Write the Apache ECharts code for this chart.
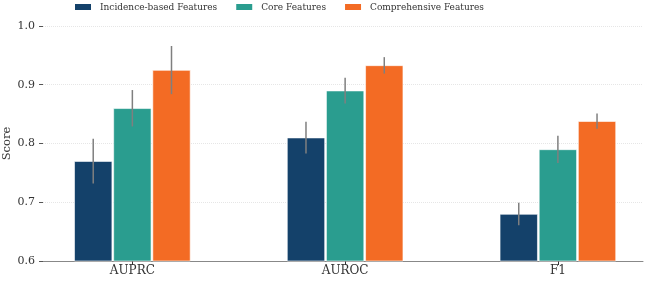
<!DOCTYPE html>
<html>
<head>
<meta charset="utf-8">
<script src="https://cdn.jsdelivr.net/npm/echarts@6/dist/echarts.min.js"></script>
<style>
  html, body { margin: 0; padding: 0; background: #fff; }
  #chart { width: 645px; height: 281px; }
</style>
</head>
<body>
<div id="chart"></div>
<script>
const categories = ['AUPRC', 'AUROC', 'F1'];
const seriesNames = ['Incidence-based Features', 'Core Features', 'Comprehensive Features'];
const incidence = [0.77, 0.81, 0.68];
const incidenceErr = [0.038, 0.027, 0.019];
const core = [0.86, 0.89, 0.79];
const coreErr = [0.031, 0.022, 0.023];
const comprehensive = [0.925, 0.933, 0.838];
const comprehensiveErr = [0.041, 0.014, 0.013];

const colors = ['#14416a', '#2a9d8f', '#f36b24'];
const barWidth = 38;
const barGap = 0.03;
const font = "'DejaVu Serif Condensed', 'DejaVu Serif', serif";
const fontWide = "'DejaVu Serif', serif";

const element = document.getElementById('chart');
const chart = echarts.init(element);

const means = [incidence, core, comprehensive];
const errs = [incidenceErr, coreErr, comprehensiveErr];

const barSeries = means.map((vals, k) => ({
  name: seriesNames[k],
  type: 'bar',
  barWidth,
  barGap: barGap * 100 + '%',
  itemStyle: { color: colors[k], borderColor: '#fff', borderWidth: 0.6 },
  data: vals.map((v, i) => [i, v]),
  z: 2,
}));

// error bars, no caps
const errSeries = means.map((vals, k) => ({
  name: seriesNames[k] + ' err',
  type: 'custom',
  z: 5,
  renderItem: (params, api) => {
    const x = api.value(0);
    const lo = api.coord([x, api.value(1) - api.value(2)]);
    const hi = api.coord([x, api.value(1) + api.value(2)]);
    const dx = (k - 1) * barWidth * (1 + barGap);
    return {
      type: 'line',
      shape: { x1: lo[0] + dx, y1: lo[1], x2: hi[0] + dx, y2: hi[1] },
      style: { stroke: '#7f7f7f', lineWidth: 1.5 },
    };
  },
  data: vals.map((v, i) => [i, v, errs[k][i]]),
}));

chart.setOption({
  animation: false,
  legend: {
    top: -3,
    left: 68,
    itemWidth: 18,
    itemHeight: 8,
    itemGap: 17,
    icon: 'rect',
    data: seriesNames,
    textStyle: { fontFamily: font, fontSize: 10, color: '#333', padding: [0, 0, 0, 3] },
  },
  grid: { left: 43, right: 2, top: 26, bottom: 20, outerBoundsMode: 'none' },
  xAxis: {
    type: 'value',
    min: -0.42,
    max: 2.4,
    splitLine: { show: false },
    axisLine: { show: true, onZero: false, lineStyle: { color: '#888', width: 1 } },
    axisTick: { show: true, customValues: [0, 1, 2], length: 4, lineStyle: { color: '#333' } },
    axisLabel: {
      customValues: [0, 1, 2],
      formatter: (v) => categories[Math.round(v)],
      fontFamily: fontWide,
      fontSize: 12,
      color: '#333',
      margin: 4,
    },
  },
  yAxis: {
    type: 'value',
    name: 'Score',
    nameLocation: 'middle',
    nameGap: 30,
    nameMoveOverlap: false,
    nameTextStyle: { fontFamily: fontWide, fontSize: 11.5, color: '#333' },
    min: 0.6,
    max: 1.0,
    interval: 0.1,
    axisLine: { show: false, onZero: false },
    axisTick: { show: true, length: 4, lineStyle: { color: '#555' } },
    axisLabel: {
      formatter: (v) => v.toFixed(1),
      fontFamily: fontWide,
      fontSize: 11,
      color: '#333',
      margin: 8,
    },
    splitLine: { show: true, lineStyle: { color: '#e6e6e6', type: 'dotted', width: 1 } },
  },
  series: [...barSeries, ...errSeries],
});
</script>
</body>
</html>
